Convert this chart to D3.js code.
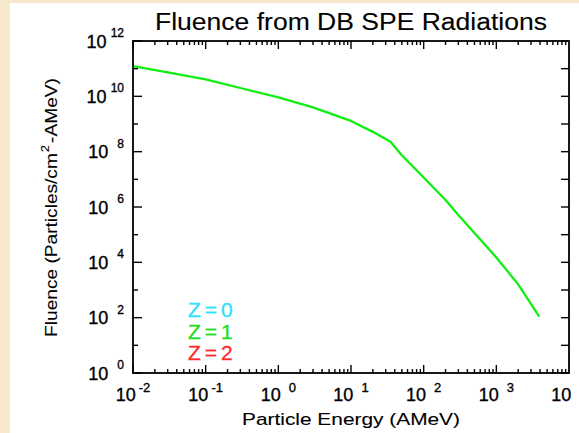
<!DOCTYPE html>
<html><head><meta charset="utf-8">
<script src="https://cdn.jsdelivr.net/npm/d3@7"></script>
<style>
html,body{margin:0;padding:0;background:#f6e8ca;}
svg{display:block;font-family:"Liberation Sans",Arial,Helvetica,sans-serif;}
</style></head>
<body>
<svg id="chart" width="579" height="433"></svg>
<script>
// ---- data ----
const energy  = [0.01, 0.03, 0.1, 0.3, 1, 3, 10, 20, 35, 50, 100, 200, 300, 1000, 2000, 3900];
const fluence = [1.23e11, 7.4e10, 4.1e10, 2.0e10, 9.1e9, 4.0e9, 1.29e9, 5.2e8, 2.3e8, 7.4e7, 1.17e7, 1.78e6, 5.1e5, 1.5e4, 1.6e3, 110];
const xTickExps = [-2, -1, 0, 1, 2, 3, 4];
const yTickExps = [0, 2, 4, 6, 8, 10, 12];
const legendLabels = ["Z=0", "Z=1", "Z=2"];
const legendColors = ["#2ae2ff", "#22dd22", "#ff2a2a"];
const titleText = "Fluence from DB SPE Radiations";
const xLabel = "Particle Energy (AMeV)";

const svg = d3.select("#chart");
svg.append("rect").attr("x",0).attr("y",0).attr("width",579).attr("height",433).attr("fill","#f6e8ca");
svg.append("rect").attr("x",10).attr("y",3).attr("width",569).attr("height",430).attr("fill","#ffffff");

const L=133, R=569, T=41, B=373;
const x = d3.scaleLog().domain([1e-2,1e4]).range([L,R]);
const y = d3.scaleLog().domain([1,1e12]).range([B,T]);

// curve
const pts = energy.map((e,i)=>[e,fluence[i]]);
svg.append("path").datum(pts)
  .attr("d", d3.line().x(d=>x(d[0])).y(d=>y(d[1])))
  .attr("fill","none").attr("stroke","#11ee11").attr("stroke-width",2.3).attr("stroke-linejoin","round");

// frame
svg.append("rect").attr("x",L).attr("y",T).attr("width",R-L).attr("height",B-T)
  .attr("fill","none").attr("stroke","#000").attr("stroke-width",1.8);

const g = svg.append("g").attr("stroke","#000").attr("stroke-width",1.4);
for (let p=-2;p<4;p++){
  for (let m=1;m<10;m++){
    const v = m*Math.pow(10,p);
    const len = m===1?8:4;
    const xx = x(v);
    g.append("line").attr("x1",xx).attr("x2",xx).attr("y1",B).attr("y2",B-len);
    g.append("line").attr("x1",xx).attr("x2",xx).attr("y1",T).attr("y2",T+len);
  }
}
for (let p=0;p<=12;p++){
  const yy = y(Math.pow(10,p));
  const len = p%2===0?9:5;
  g.append("line").attr("x1",L).attr("x2",L+len).attr("y1",yy).attr("y2",yy);
  g.append("line").attr("x1",R).attr("x2",R-8).attr("y1",yy).attr("y2",yy);
}

const txt = (sel, sw) => sel.attr("fill","#000").attr("stroke","#000").attr("stroke-width",sw===undefined?0.35:sw);

// x tick labels
xTickExps.forEach(p=>{
  const t = svg.append("text").attr("x",x(Math.pow(10,p))).attr("y",401)
    .attr("text-anchor","middle").attr("font-size",18).call(txt);
  t.append("tspan").text("10");
  const s = String(p);
  t.append("tspan").attr("font-size",13).attr("dx", s.length===1?8:3).attr("dy",-9).text(s);
});
// y tick labels
yTickExps.forEach(p=>{
  const t = svg.append("text").attr("x",124).attr("y",y(Math.pow(10,p))+6.5)
    .attr("text-anchor","end").attr("font-size",18).call(txt);
  t.append("tspan").text("10");
  const s = String(p);
  t.append("tspan").attr("font-size",12).attr("dx", s.length===1?9:4).attr("dy",-10.5).text(s);
});

// title
svg.append("text").attr("x",351).attr("y",30).attr("text-anchor","middle")
  .attr("font-size",23).attr("textLength",392).attr("lengthAdjust","spacingAndGlyphs").call(txt,0.1).text(titleText);
// x label
svg.append("text").attr("x",351).attr("y",425).attr("text-anchor","middle")
  .attr("font-size",17).attr("textLength",218).attr("lengthAdjust","spacingAndGlyphs").call(txt,0.1).text(xLabel);
// y label (stretched along its length to match reference)
const ylg = svg.append("g").attr("transform","translate(57,207.5) rotate(-90)");
const yl = ylg.append("text").attr("text-anchor","middle").attr("font-size",17).call(txt,0.1);
yl.append("tspan").text("Fluence (Particles/cm");
yl.append("tspan").attr("font-size",11).attr("dy",-8).attr("dx",1).text("2");
yl.append("tspan").attr("dy",8).attr("dx",2).text("-AMeV)");
const w = yl.node().getBBox().width;
if (w > 0) yl.attr("transform", `scale(${259/w},1)`);

// legend
legendLabels.forEach((lab,i)=>{
  svg.append("text").attr("x",188).attr("y",317+i*21.5)
    .attr("font-size",21).attr("letter-spacing",4)
    .attr("fill",legendColors[i]).attr("stroke",legendColors[i]).attr("stroke-width",0.3).text(lab);
});
</script>
</body></html>
